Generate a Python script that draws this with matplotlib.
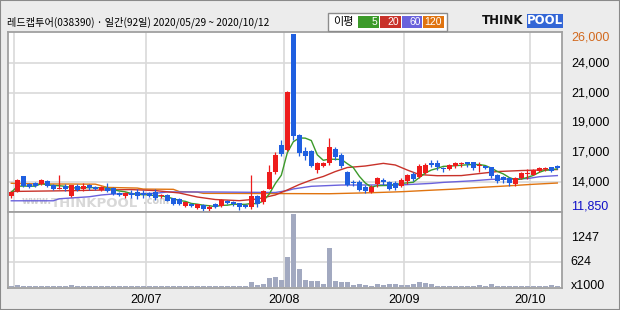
import matplotlib
matplotlib.use('Agg')
import matplotlib.pyplot as plt
from matplotlib.patches import Rectangle
import numpy as np
import pandas as pd

plt.rcParams['font.family'] = ['Noto Sans CJK KR', 'DejaVu Sans']

# trading days 2020/05/29 ~ 2020/10/12 (KRX holidays removed)
holidays = ['2020-08-17', '2020-09-30', '2020-10-01', '2020-10-02', '2020-10-09']
dates = pd.bdate_range('2020-05-29', '2020-10-12')
dates = dates[~dates.isin(pd.to_datetime(holidays))]

opens = [13150, 13500, 14700, 14050, 14130, 14060, 14310, 14010, 13700, 13930,
         13140, 13930, 13660, 14000, 13800, 13600, 13780, 13730, 13330, 13140,
         13380, 13460, 13380, 13330, 13410, 13100, 13200, 12940, 12880, 12350,
         12460, 12140, 12400, 12050, 12460, 12350, 12740, 12660, 12540, 12380,
         12270, 13120, 12620, 13700, 15060, 17160, 16770, 25950, 17950, 16710,
         16690, 15180, 15500, 15710, 16870, 16370, 15050, 14250, 14250, 13860,
         13410, 14060, 14380, 14200, 14120, 13930, 14310, 14860, 14650, 14920,
         15760, 15760, 15360, 15260, 15520, 15660, 15790, 15790, 15520, 15500,
         15390, 14780, 14650, 14570, 14070, 14520, 14860, 14780, 15120, 15260,
         15390, 15520]
highs = [13450, 14430, 14720, 14170, 14200, 14490, 14390, 14070, 14780, 14060,
         14000, 14100, 14140, 14050, 13900, 13950, 14120, 13830, 13400, 13440,
         13580, 13650, 13580, 13450, 13650, 13300, 13280, 13000, 12960, 12650,
         12550, 12500, 12450, 12400, 12600, 12850, 12800, 12700, 12600, 12450,
         14780, 13200, 13600, 15600, 16630, 17560, 21450, 26000, 18030, 17030,
         16770, 15840, 15800, 17690, 17000, 16550, 15100, 14390, 14390, 13980,
         13980, 14630, 14540, 14300, 14310, 14540, 14860, 15000, 15660, 15740,
         15970, 15950, 15440, 15650, 15840, 15840, 15840, 15840, 15840, 15540,
         15450, 14860, 14700, 14650, 14650, 15050, 15280, 15280, 15390, 15440,
         15420, 15600]
lows = [12950, 13450, 13800, 13730, 13850, 13990, 13860, 13620, 13650, 13500,
        13060, 13550, 13500, 13600, 13600, 13550, 13460, 13200, 13150, 12980,
        13000, 12880, 13000, 13050, 12800, 12950, 12720, 12400, 12400, 12250,
        12250, 12100, 11850, 11950, 12200, 12250, 12450, 12300, 12010, 12200,
        12100, 12250, 12500, 13650, 14860, 16300, 16700, 17560, 16290, 15970,
        15390, 14970, 15400, 15550, 15970, 15310, 13900, 13930, 13520, 13360,
        13330, 13860, 14000, 13570, 13620, 13860, 14090, 14300, 14540, 14900,
        15440, 15200, 15050, 15200, 15360, 15450, 15450, 15200, 15050, 15250,
        14540, 14150, 14120, 13930, 13930, 14450, 14450, 14780, 15050, 15120,
        15050, 15260]
closes = [13400, 14380, 13950, 13860, 13910, 14410, 13910, 13670, 13780, 13660,
          13960, 13600, 13930, 13740, 13700, 13850, 13540, 13280, 13200, 13380,
          13200, 13140, 13200, 13140, 12980, 13150, 12750, 12480, 12480, 12620,
          12320, 12460, 12060, 12280, 12270, 12800, 12540, 12460, 12220, 12270,
          13140, 12460, 13510, 15040, 16370, 16450, 21390, 17880, 16550, 16290,
          15500, 15710, 15710, 17030, 16190, 15500, 13990, 14140, 13600, 13520,
          13860, 14570, 14200, 13660, 13780, 14390, 14780, 14460, 15500, 15580,
          15580, 15440, 15260, 15580, 15760, 15760, 15630, 15360, 15580, 15360,
          14730, 14310, 14390, 14120, 14520, 14970, 14970, 15180, 15360, 15360,
          15120, 15360]
volumes = [35, 55, 30, 28, 25, 27, 25, 26, 30, 25,
           55, 25, 25, 24, 25, 25, 24, 25, 25, 24,
           25, 25, 24, 25, 24, 25, 25, 24, 25, 25,
           24, 25, 25, 25, 24, 25, 25, 24, 25, 25,
           126, 50, 76, 228, 253, 177, 759, 1847, 455, 177,
           152, 152, 76, 987, 152, 126, 126, 50, 76, 50,
           25, 76, 50, 76, 76, 50, 50, 76, 126, 110,
           76, 35, 35, 30, 30, 35, 30, 30, 50, 30,
           76, 30, 30, 30, 30, 30, 30, 30, 30, 30,
           50, 30]

# longer moving averages (day index, price)
ma20_idx = [0, 8, 20, 24, 28, 31, 34, 38, 41, 44, 46, 48, 50, 52, 54, 56, 59, 62, 64, 66, 68, 71, 75, 78, 81, 85, 91]
ma20_val = [13480, 13530, 13630, 13550, 13360, 13040, 12840, 12750, 12880, 13200, 13600, 14030, 14390, 14670,
            15060, 15380, 15500, 15710, 15580, 15180, 14820, 14730, 14740, 14900, 15060, 15140, 15220]
ma60_idx = [0, 7, 8, 13, 15, 17, 24, 26, 33, 44, 46, 47, 50, 53, 55, 65, 70, 72, 77, 80, 86, 88, 91]
ma60_val = [12740, 12740, 12900, 13060, 13200, 13280, 13330, 13440, 13440, 13400, 13550, 13680, 13890, 13950,
            13990, 14000, 14120, 14200, 14330, 14440, 14500, 14650, 14740]
ma120_idx = [0, 4, 14, 16, 21, 22, 27, 28, 31, 32, 53, 60, 65, 70, 74, 77, 83, 87, 91]
ma120_val = [14130, 14080, 14060, 13800, 13750, 13670, 13650, 13470, 13430, 13330, 13300, 13380, 13460,
             13580, 13670, 13770, 13930, 14050, 14150]

price_min, price_max = 11850, 26000
vol_labels = [624, 1247]

c_up, c_dn = '#ee1c1c', '#1f5fe0'
c_ma5, c_ma20, c_ma60, c_ma120 = '#3c9a2a', '#c8322a', '#6a62dc', '#e07410'
grid_c = '#d9d9d9'
frame_c = '#a0a0a0'

W, H = 620, 310
fig = plt.figure(figsize=(6.2, 3.1), dpi=100, facecolor='#ececec')


def px_axes(x0, y0, x1, y1):
    return fig.add_axes([x0 / W, 1 - y1 / H, (x1 - x0) / W, (y1 - y0) / H])


ax = px_axes(8, 31.7, 562, 212)
axv = px_axes(8, 212, 562, 288)

n = len(closes)
x = np.arange(n)
o = np.array(opens)
c = np.array(closes)
up = c >= o
cols = np.where(up, c_up, c_dn)

# month boundaries
month_start = [i for i in range(1, n) if dates[i].month != dates[i - 1].month]

for a in (ax, axv):
    a.set_xlim(-0.55, 91.78)
    a.set_facecolor('white')
    for s in a.spines.values():
        s.set_color(frame_c)
        s.set_linewidth(1.3)
    a.tick_params(left=False, right=False, bottom=False, top=False,
                  labelleft=False, labelbottom=False)
    for m in month_start:
        a.axvline(m - 0.5, color=grid_c, lw=1.2, zorder=0)

# price panel
ymax = price_min + (price_max - price_min) * 180.3 / 178.3
ax.set_ylim(price_min, ymax)
grid_vals = np.linspace(price_min, price_max, 7)[1:-1]
for g in grid_vals:
    ax.axhline(g, color=grid_c, lw=1.2, zorder=0)

# watermark
ax.text(0.025, 0.045, 'www.', transform=ax.transAxes, fontsize=7, color='#d0d0d0',
        family='DejaVu Sans', fontweight='bold', zorder=1)
ax.text(0.078, 0.03, 'THINKPOOL', transform=ax.transAxes, fontsize=9.5, color='#d8d8d8',
        family='DejaVu Sans', fontweight='bold', zorder=1)
ax.text(0.243, 0.045, '.com', transform=ax.transAxes, fontsize=7, color='#d0d0d0',
        family='DejaVu Sans', fontweight='bold', zorder=1)

ma5 = pd.Series(closes).rolling(5, min_periods=1).mean()
ax.plot(ma120_idx, ma120_val, color=c_ma120, lw=1.0, zorder=2)
ax.plot(ma60_idx, ma60_val, color=c_ma60, lw=1.0, zorder=2)
ax.plot(ma20_idx, ma20_val, color=c_ma20, lw=1.0, zorder=2)
ax.plot(x, ma5, color=c_ma5, lw=1.0, zorder=2)

ax.vlines(x, lows, highs, colors=cols, lw=0.9, zorder=3)
body_lo = np.minimum(o, c)
body_h = np.maximum(np.abs(c - o), 70)
ax.bar(x, body_h, bottom=body_lo, width=0.8, color=cols, linewidth=0, zorder=4)

grid_labels = ['14,000', '17,000', '19,000', '21,000', '24,000']
for g, lab in zip(grid_vals, grid_labels):
    ax.text(1.016, g, lab, transform=ax.get_yaxis_transform(), fontsize=9,
            family='Liberation Sans', va='center', ha='left', clip_on=False)
ax.text(1.016, 0.969, '26,000', transform=ax.transAxes, fontsize=9, color='#d2691e',
        family='Liberation Sans', va='center', ha='left', clip_on=False)
ax.text(1.016, 0.029, '11,850', transform=ax.transAxes, fontsize=9, color='#1010c8',
        family='Liberation Sans', va='center', ha='left', clip_on=False)

# volume panel
axv.set_ylim(-25, 1898)
for v in vol_labels:
    axv.axhline(v, color=grid_c, lw=1.2, zorder=0)
    axv.text(1.016, v, str(v), transform=axv.get_yaxis_transform(), fontsize=9,
             family='Liberation Sans', va='center', ha='left', clip_on=False)
axv.text(1.016, 0.03, 'x1000', transform=axv.transAxes, fontsize=9,
         family='Liberation Sans', va='center', ha='left', clip_on=False)
axv.bar(x, volumes, width=0.8, color='#a2a9c0', linewidth=0, zorder=3)

for m in month_start:
    if dates[m].month >= 7:
        axv.text(m - 0.5, -0.16, dates[m].strftime('%y/%m'), transform=axv.get_xaxis_transform(),
                 fontsize=9, family='Liberation Sans', ha='center', va='center', clip_on=False)

# header
fig.text(7 / W, 1 - 22 / H, '레드캡투어(038390) · 일간(92일) 2020/05/29 ~ 2020/10/12',
         fontsize=7.3, va='center', ha='left')

fig.patches.append(Rectangle((328 / W, 1 - 31 / H), 119 / W, 18 / H, transform=fig.transFigure,
                             facecolor='white', edgecolor='#8c8c8c', lw=1.0))
fig.text(333 / W, 1 - 22 / H, '이평', fontsize=8, va='center', ha='left')
ma_names = ['5', '20', '60', '120']
ma_cols = [c_ma5, c_ma20, c_ma60, c_ma120]
box_x = [357.7, 380, 402, 423]
box_w = [20.9, 21, 20, 20.5]
for bx, bw, name, col in zip(box_x, box_w, ma_names, ma_cols):
    fig.patches.append(Rectangle((bx / W, 1 - 27.5 / H), bw / W, 11.5 / H, transform=fig.transFigure,
                                 facecolor=col, edgecolor='none'))
    fig.text((bx + bw - 1.5) / W, 1 - 22 / H, name, fontsize=7.5, color='white',
             family='Liberation Sans', va='center', ha='right')

# logo
fig.text(482 / W, 1 - 21 / H, 'THINK', fontsize=8.5, fontweight='bold', family='DejaVu Sans',
         va='center', ha='left', color='#111111')
fig.patches.append(Rectangle((527 / W, 1 - 28 / H), 36 / W, 14 / H, transform=fig.transFigure,
                             facecolor='#3366d6', edgecolor='none'))
fig.text(545 / W, 1 - 21 / H, 'POOL', fontsize=8.5, fontweight='bold', family='DejaVu Sans',
         va='center', ha='center', color='white')

# outer border
fig.patches.append(Rectangle((0, 0), 1, 1, transform=fig.transFigure, facecolor='none',
                             edgecolor='#8a8a8a', lw=1.5))

fig.savefig('out.png', dpi=100, facecolor=fig.get_facecolor())
